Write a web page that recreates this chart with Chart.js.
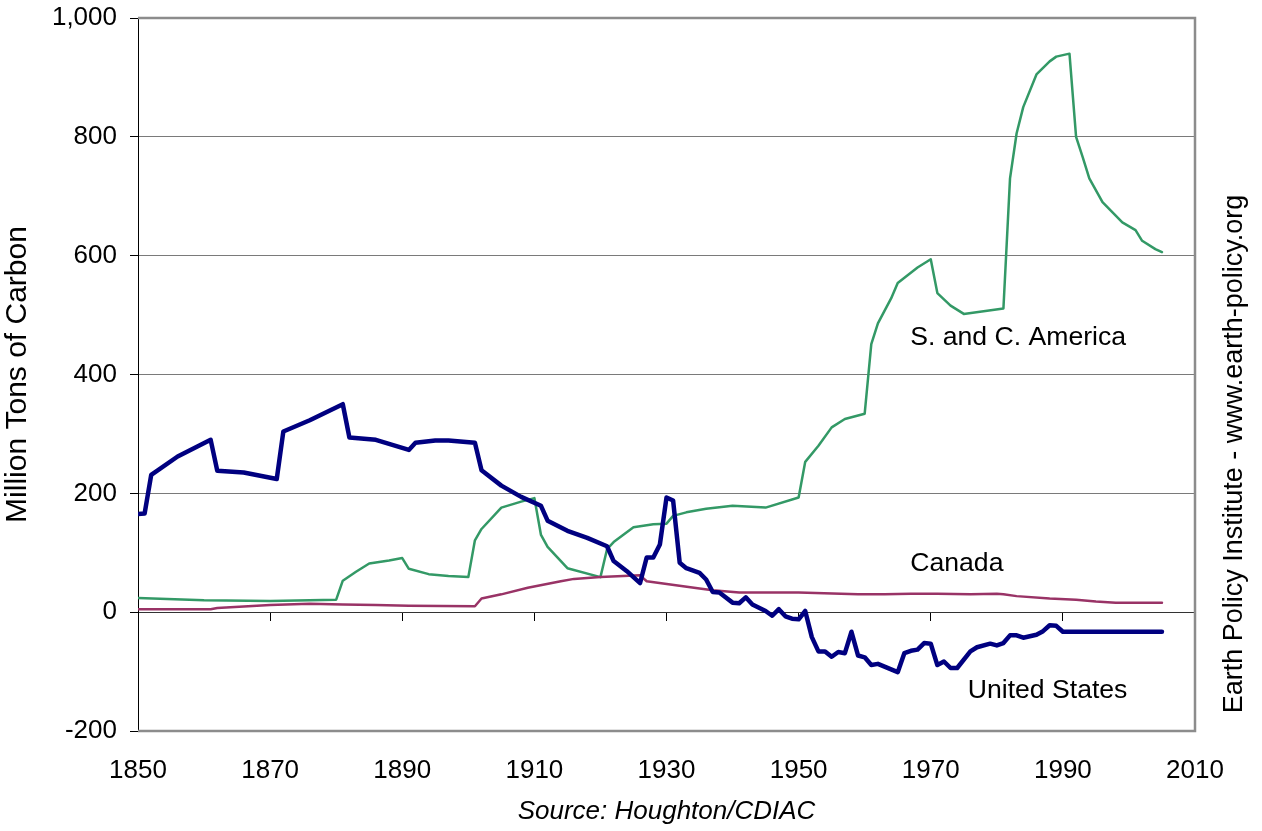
<!DOCTYPE html>
<html>
<head>
<meta charset="utf-8">
<script src="https://cdn.jsdelivr.net/npm/chart.js@4.4.0/dist/chart.umd.min.js"></script>
<style>
  html, body { margin: 0; padding: 0; background: #fff; }
  #wrap { width: 1262px; height: 831px; position: relative; }
</style>
</head>
<body>
<div id="wrap"><canvas id="myChart" width="1262" height="831"></canvas></div>
<script>
// Data (million tons of carbon)
var usYears = [1850, 1851, 1852, 1856, 1861, 1862, 1866, 1871, 1872, 1876, 1881, 1882, 1886, 1891, 1892, 1895, 1897, 1901, 1902, 1905, 1908, 1911, 1912, 1915, 1918, 1921, 1922, 1924, 1926, 1927, 1928, 1929, 1930, 1931, 1932, 1933, 1935, 1936, 1937, 1938, 1940, 1941, 1942, 1943, 1945, 1946, 1947, 1948, 1949, 1950, 1951, 1952, 1953, 1954, 1955, 1956, 1957, 1958, 1959, 1960, 1961, 1962, 1965, 1966, 1967, 1968, 1969, 1970, 1971, 1972, 1973, 1974, 1976, 1977, 1979, 1980, 1981, 1982, 1983, 1984, 1986, 1987, 1988, 1989, 1990, 2005];
var usValues = [165, 166, 231, 262, 290, 238, 235, 224, 304, 323, 350, 294, 290, 273, 285, 289, 289, 285, 239, 213, 194, 179, 154, 137, 125, 111, 86, 69, 49, 92, 92, 114, 193, 188, 83, 74, 66, 55, 34, 33, 16, 15, 25, 13, 2, -6, 5, -7, -11, -12, 2, -42, -66, -66, -75, -67, -69, -33, -73, -76, -89, -87, -101, -69, -65, -63, -52, -53, -89, -83, -94, -94, -66, -59, -53, -56, -52, -39, -39, -43, -38, -32, -22, -23, -33, -33];

var caYears = [1850, 1861, 1862, 1870, 1876, 1881, 1886, 1891, 1901, 1902, 1905, 1909, 1914, 1916, 1920, 1926, 1927, 1935, 1937, 1941, 1950, 1959, 1963, 1967, 1971, 1976, 1980, 1981, 1983, 1988, 1992, 1995, 1998, 2005];
var caValues = [5, 5, 7, 12, 14, 13, 12, 11, 10, 23, 30, 41, 52, 56, 59, 62, 52, 40, 37, 33, 33, 30, 30, 31, 31, 30, 31, 30, 27, 23, 21, 18, 16, 16];

var saYears = [1850, 1860, 1870, 1880, 1881, 1883, 1885, 1888, 1890, 1891, 1894, 1897, 1900, 1901, 1902, 1905, 1908, 1910, 1911, 1912, 1915, 1920, 1921, 1922, 1925, 1928, 1930, 1931, 1933, 1936, 1940, 1945, 1950, 1951, 1953, 1955, 1957, 1960, 1961, 1962, 1964, 1965, 1968, 1970, 1971, 1973, 1975, 1981, 1982, 1983, 1984, 1986, 1988, 1989, 1991, 1992, 1993, 1994, 1996, 1999, 2001, 2002, 2004, 2005];
var saValues = [24, 20, 19, 21, 53, 68, 82, 87, 91, 73, 64, 61, 59, 121, 140, 176, 186, 192, 130, 110, 74, 59, 106, 118, 143, 148, 149, 162, 168, 174, 179, 176, 193, 253, 280, 311, 325, 334, 451, 486, 528, 554, 580, 594, 537, 516, 502, 511, 730, 806, 850, 905, 927, 935, 940, 800, 766, 730, 690, 656, 643, 625, 611, 606];

var xTicks = [1850, 1870, 1890, 1910, 1930, 1950, 1970, 1990, 2010];
var yTicks = [-200, 0, 200, 400, 600, 800, 1000];

function pts(xs, ys) {
    return xs.map(function (x, i) { return { x: x, y: ys[i] }; });
}

var FONT = '"Liberation Sans", Arial, sans-serif';

// frame, in-plot series labels and the side credit
var decorPlugin = {
    id: 'decor',
    beforeDatasetsDraw: function (chart) {
        var a = chart.chartArea, c = chart.ctx;
        c.save();
        c.strokeStyle = '#8c8c8c';
        c.lineWidth = 2.5;
        c.beginPath();
        c.moveTo(a.left, a.top);
        c.lineTo(a.right, a.top);
        c.lineTo(a.right, a.bottom);
        c.lineTo(a.left, a.bottom);
        c.stroke();
        c.restore();
    },
    afterDatasetsDraw: function (chart) {
        var c = chart.ctx, xs = chart.scales.x, ys = chart.scales.y;
        var notes = [
            ['S. and C. America', 1966.9, 462],
            ['Canada', 1966.9, 82],
            ['United States', 1975.6, -132]
        ];
        c.save();
        c.font = '26.6px ' + FONT;
        c.fillStyle = '#000';
        c.textAlign = 'left';
        c.textBaseline = 'middle';
        notes.forEach(function (n) {
            c.fillText(n[0], xs.getPixelForValue(n[1]), ys.getPixelForValue(n[2]));
        });
        c.font = '27px ' + FONT;
        c.translate(1235, 454);
        c.rotate(-Math.PI / 2);
        c.textAlign = 'center';
        c.fillText('Earth Policy Institute - www.earth-policy.org', 0, 0);
        c.restore();
    }
};

var ctx = document.getElementById('myChart').getContext('2d');

var chartData = {
    datasets: [{
        label: 'United States',
        data: pts(usYears, usValues),
        borderColor: '#000080',
        borderWidth: 4.5
    }, {
        label: 'Canada',
        data: pts(caYears, caValues),
        borderColor: '#993366',
        borderWidth: 2.5
    }, {
        label: 'S. and C. America',
        data: pts(saYears, saValues),
        borderColor: '#339966',
        borderWidth: 2.5
    }]
};

var chartOptions = {
    responsive: false,
    animation: false,
    layout: { padding: { left: 0, top: 18, right: 67, bottom: 0 } },
    elements: {
        point: { radius: 0 },
        line: { tension: 0, borderJoinStyle: 'round', borderCapStyle: 'round' }
    },
    plugins: { legend: { display: false }, tooltip: { enabled: false } },
    scales: {
        x: {
            type: 'linear',
            min: 1850,
            max: 2010,
            afterBuildTicks: function (s) { s.ticks = xTicks.map(function (v) { return { value: v }; }); },
            afterFit: function (s) { s.height = 100; s.paddingLeft = 0; s.paddingRight = 0; },
            grid: { display: false, drawTicks: false },
            border: { display: false },
            ticks: {
                padding: 24,
                color: '#000',
                font: { family: FONT, size: 26 },
                maxRotation: 0,
                callback: function (v) { return String(v); }
            },
            title: {
                display: true,
                text: 'Source: Houghton/CDIAC',
                color: '#000',
                font: { family: FONT, size: 26, style: 'italic' },
                padding: { top: 0, bottom: 4 }
            }
        },
        x2: {
            type: 'linear',
            axis: 'x',
            position: { y: 0 },
            min: 1850,
            max: 2010,
            afterBuildTicks: function (s) { s.ticks = xTicks.map(function (v) { return { value: v }; }); },
            afterFit: function (s) { s.paddingLeft = 0; s.paddingRight = 0; },
            grid: { drawOnChartArea: false, drawTicks: true, tickLength: 8, tickColor: '#000' },
            border: { color: '#333', width: 1 },
            ticks: { display: false }
        },
        y: {
            min: -200,
            max: 1000,
            afterBuildTicks: function (s) { s.ticks = yTicks.map(function (v) { return { value: v }; }); },
            afterFit: function (s) { s.width = 138; s.paddingTop = 0; s.paddingBottom = 0; },
            grid: { color: '#7a7a7a', lineWidth: 1, tickLength: 8, tickColor: '#000' },
            border: { color: '#000', width: 1 },
            ticks: {
                padding: 13,
                color: '#000',
                font: { family: FONT, size: 26 },
                callback: function (v) { return v.toLocaleString('en-US'); }
            },
            title: {
                display: true,
                text: 'Million Tons of Carbon',
                color: '#000',
                font: { family: FONT, size: 30 },
                padding: { top: 0, bottom: 0 }
            }
        }
    }
};

var chart = new Chart(ctx, { type: 'line', data: chartData, options: chartOptions, plugins: [decorPlugin] });
</script>
</body>
</html>
